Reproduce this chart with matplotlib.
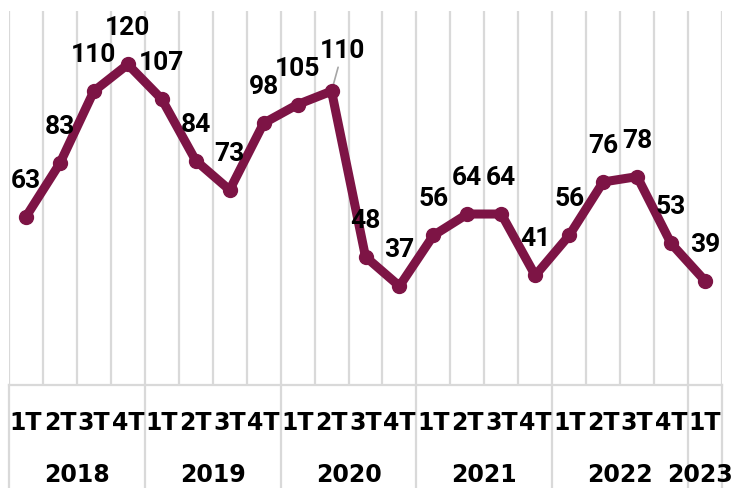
import matplotlib
matplotlib.use("Agg")
import matplotlib.pyplot as plt
from matplotlib.transforms import blended_transform_factory
from matplotlib.lines import Line2D

# ---- data ----
years = ["2018", "2019", "2020", "2021", "2022", "2023"]
quarters_per_year = [4, 4, 4, 4, 4, 1]
quarter_labels = ["1T", "2T", "3T", "4T"] * 5 + ["1T"]
values = [63, 83, 110, 120, 107, 84, 73, 98, 105, 110,
          48, 37, 56, 64, 64, 41, 56, 76, 78, 53, 39]

LINE_COLOR = "#7D1445"
GRID_COLOR = "#D9D9D9"
AXIS_FONT = "DejaVu Sans"
LABEL_FONT = ["Roboto", "DejaVu Sans"]

W, H = 736, 488
fig = plt.figure(figsize=(W / 100, H / 100), dpi=100)
ax_left, ax_right = 9, 722
ax_top, ax_bottom = 11, 385
ax = fig.add_axes([ax_left / W, (H - ax_bottom) / H,
                   (ax_right - ax_left) / W, (ax_bottom - ax_top) / H])

n = len(values)
x = list(range(n))
ax.set_xlim(-0.5, n - 0.5)
ax.set_ylim(0, 140)

# vertical gridlines at category boundaries
for b in range(n + 1):
    ax.axvline(b - 0.5, color=GRID_COLOR, lw=1.6, zorder=0)

for s in ["top", "right", "left"]:
    ax.spines[s].set_visible(False)
ax.spines["bottom"].set_color(GRID_COLOR)
ax.spines["bottom"].set_linewidth(1.6)
ax.set_xticks([])
ax.set_yticks([])

# series
ax.plot(x, values, color=LINE_COLOR, lw=6.5, marker="o", markersize=10,
        solid_joinstyle="round", solid_capstyle="round", zorder=3)

# data labels
for i, v in enumerate(values):
    if i == 9:
        ax.annotate(str(v), xy=(i, v), xytext=(11, 40), textcoords="offset pixels",
                    ha="center", va="center", fontsize=19, fontweight="bold",
                    family=LABEL_FONT, color="black",
                    arrowprops=dict(arrowstyle="-", color="#A6A6A6", lw=1.2,
                                    shrinkA=1, shrinkB=2),
                    zorder=2)
    else:
        ax.annotate(str(v), xy=(i, v), xytext=(0, 36), textcoords="offset pixels",
                    ha="center", va="center", fontsize=19, fontweight="bold",
                    family=LABEL_FONT, color="black", zorder=4)

# category axis (quarters + years)
trans = blended_transform_factory(ax.transData, ax.transAxes)
ax_h = ax_bottom - ax_top
for i, q in enumerate(quarter_labels):
    ax.text(i, -38 / ax_h, q, transform=trans, ha="center", va="center",
            fontsize=17, fontweight="bold", family=AXIS_FONT, color="black")

start = 0
bounds = [-0.5]
for yr, cnt in zip(years, quarters_per_year):
    center = start + (cnt - 1) / 2
    if cnt == 1:
        center -= 0.15
    ax.text(center, -90 / ax_h, yr, transform=trans, ha="center", va="center",
            fontsize=17, fontweight="bold", family=AXIS_FONT, color="black")
    start += cnt
    bounds.append(start - 0.5)

bottom_frac = -(H - ax_bottom) / ax_h
for b in bounds:
    ln = Line2D([b, b], [0, bottom_frac], transform=trans, color=GRID_COLOR,
                lw=1.6, clip_on=False)
    ax.add_line(ln)

fig.savefig("out.png", dpi=100)
